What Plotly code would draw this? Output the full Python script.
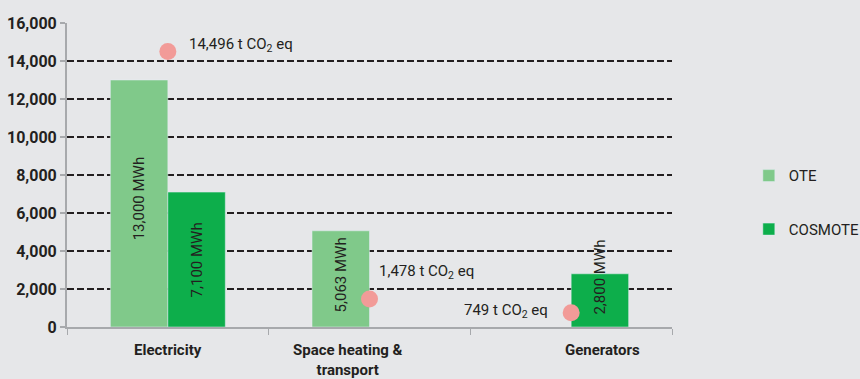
import plotly.graph_objects as go

categories = ["Electricity", "Space heating &amp;<br>transport", "Generators"]
ote_mwh = [13000, 5063, None]
cosmote_mwh = [7100, None, 2800]
co2_t = [14496, 1478, 749]
co2_labels = ["14,496 t CO<sub>2</sub> eq", "1,478 t CO<sub>2</sub> eq", "749 t CO<sub>2</sub> eq"]

font_name = "Roboto, sans-serif"
ink = "#231f20"
bg = "#e6e7e9"
axis_grey = "#a7a9ac"

fig = go.Figure()

fig.add_trace(go.Bar(name="OTE", x=categories, y=ote_mwh,
                     marker=dict(color="#80c98a"), legendgroup="ote"))
fig.add_trace(go.Bar(name="COSMOTE", x=categories, y=cosmote_mwh,
                     marker=dict(color="#0dae4b"), legendgroup="cosmote"))
fig.add_trace(go.Scatter(x=categories, y=co2_t, mode="markers", showlegend=False,
                         marker=dict(size=17, color="#f29b98"), cliponaxis=False))

# rotated value labels on the bars
for series, dx, lifts in [(ote_mwh, -29, [5, 4, 0]), (cosmote_mwh, 29, [0, 0, 23])]:
    for cat, val, lift in zip(categories, series, lifts):
        if val is None:
            continue
        fig.add_annotation(x=cat, y=val / 2, text="{:,} MWh".format(val),
                           textangle=-90, showarrow=False, xshift=dx, yshift=lift,
                           font=dict(size=15, color=ink, family=font_name))

# CO2 labels next to dots
shifts = [(19, 7, "left"), (7, 27, "left"), (-21, 2, "right")]
for cat, val, lab, (dx, dy, anc) in zip(categories, co2_t, co2_labels, shifts):
    fig.add_annotation(x=cat, y=val, text=lab, showarrow=False,
                       xanchor=anc, xshift=dx, yshift=dy,
                       font=dict(size=15, color=ink, family=font_name))

# category labels
label_shift = [0, -22, 31]
for cat, dx in zip(categories, label_shift):
    fig.add_annotation(x=cat, y=0, yref="paper", text="<b>%s</b>" % cat,
                       showarrow=False, yanchor="top", yshift=-12, xshift=dx,
                       font=dict(size=15, color=ink, family=font_name))

fig.update_layout(
    width=860, height=379,
    margin=dict(l=67, r=188, t=23, b=52, autoexpand=False),
    paper_bgcolor=bg, plot_bgcolor=bg,
    barmode="group", bargap=0.43, bargroupgap=0,
    font=dict(family=font_name, color=ink, size=14),
    legend=dict(x=1.127, y=0.41, xanchor="left", yanchor="middle",
                tracegroupgap=31, font=dict(size=15, color=ink),
                bgcolor="rgba(0,0,0,0)"),
    xaxis=dict(showticklabels=False, showline=True, linecolor=axis_grey,
               linewidth=2, ticks="outside", tickson="boundaries",
               ticklen=6, tickcolor=axis_grey, showgrid=False),
    yaxis=dict(range=[0, 16000], dtick=2000, tickformat=",d",
               showline=True, linecolor=axis_grey, linewidth=2,
               ticks="outside", ticklen=5, tickcolor=axis_grey, tickwidth=2,
               showgrid=True, gridcolor=ink, gridwidth=1.5,
               griddash="7px,3px", zeroline=False,
               tickfont=dict(size=16, color=ink, family=font_name, weight="bold")),
)

# page margin off so the chart fills the window
fig.write_html("out.html", config={"displayModeBar": False},
               post_script="document.body.style.margin='0';"
               "document.body.style.background='%s';" % bg)
